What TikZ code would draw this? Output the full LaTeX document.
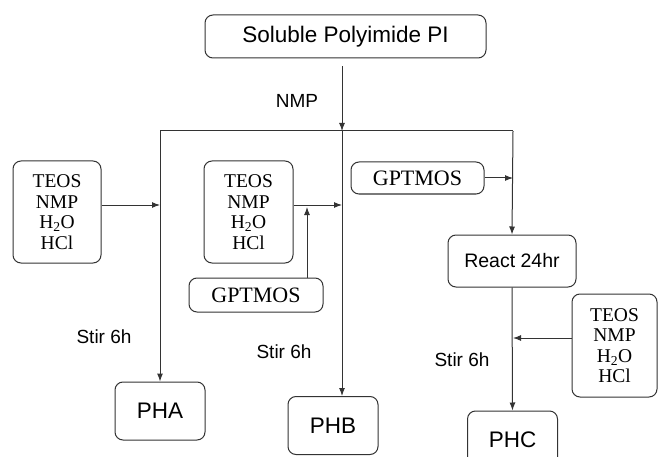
\documentclass[tikz,border=0pt]{standalone}
\usepackage{fontspec}
\setmainfont{Liberation Sans}
\newfontfamily\chemfont{Liberation Serif}
\usetikzlibrary{arrows.meta}

\begin{document}
\begin{tikzpicture}[x=1pt,y=-1pt,
    box/.style={draw=black!80, line width=1pt, rounded corners=8pt, inner sep=0pt},
    chem/.style={box, align=center, font=\chemfont\fontsize{19.5}{20.5}\selectfont},
    lbl/.style={font=\fontsize{19}{22}\selectfont},
    prod/.style={box, minimum width=90pt, minimum height=58pt, font=\fontsize{22.5}{26}\selectfont},
    ln/.style={draw=black!80, line width=1pt},
    arr/.style={ln, -{Latex[length=8pt,width=6pt]}}]
            \useasboundingbox (0,0) rectangle (658,457);
            \node[box, minimum width=281pt, minimum height=43pt, font=\fontsize{22.5}{26}\selectfont] (PI) at (345.5,36.5) {Soluble Polyimide PI};
            \node[lbl] (NMP) at (297,101) {NMP};
            \coordinate (jA) at (160,131);
            \coordinate (jB) at (342,131);
            \coordinate (jC) at (513,131);
            \node[chem, minimum width=88pt, minimum height=102pt] (TEOSa) at (57,212) {TEOS\\NMP\\H\textsubscript{2}O\\HCl};
            \node[chem, minimum width=89pt, minimum height=102pt] (TEOSb) at (248.5,212) {TEOS\\NMP\\H\textsubscript{2}O\\HCl};
            \node[chem, minimum width=134pt, minimum height=34pt, font=\chemfont\fontsize{22}{24}\selectfont] (GPa) at (256,295) {GPTMOS};
            \node[chem, minimum width=133pt, minimum height=32pt, font=\chemfont\fontsize{22}{24}\selectfont] (GPb) at (417.5,178) {GPTMOS};
            \node[box, minimum width=128pt, minimum height=52pt, font=\fontsize{19.5}{22}\selectfont] (React) at (512,261) {React 24hr};
            \node[chem, minimum width=85pt, minimum height=103pt] (TEOSc) at (614.5,345.5) {TEOS\\NMP\\H\textsubscript{2}O\\HCl};
            \node[prod] (PHA) at (160,411) {PHA};
            \node[prod] (PHB) at (333,425.5) {PHB};
            \node[prod] (PHC) at (512.5,440) {PHC};
            \node[lbl] (StirA) at (104,337) {Stir 6h};
            \node[lbl] (StirB) at (284,352) {Stir 6h};
            \node[lbl] (StirC) at (462,360) {Stir 6h};
            \coordinate (mA) at (160,205);
            \coordinate (mB) at (342,205);
            \coordinate (uB) at (307,207);
            \coordinate (mC) at (513,338);
            \draw[arr, shorten <=8pt] (PI.south -| jB) -- (jB);
            \draw[ln] (jA) -- (jC);
            \draw[arr] (jA) -- (PHA.north);
            \draw[arr] (jB) -- (jB |- PHB.north);
            \draw[arr] (jC) -- (React.north);
            \draw[arr] (TEOSa.east |- mA) -- (mA);
            \draw[arr] (TEOSb.east |- mB) -- (mB);
            \draw[arr] (GPa.north -| uB) -- (uB);
            \draw[arr] (GPb.east) -- (GPb.east -| jC);
            \draw[arr] (React.south) -- (PHC.north);
            \draw[arr] (TEOSc.west |- mC) -- (mC);
        \end{tikzpicture}
\end{document}
